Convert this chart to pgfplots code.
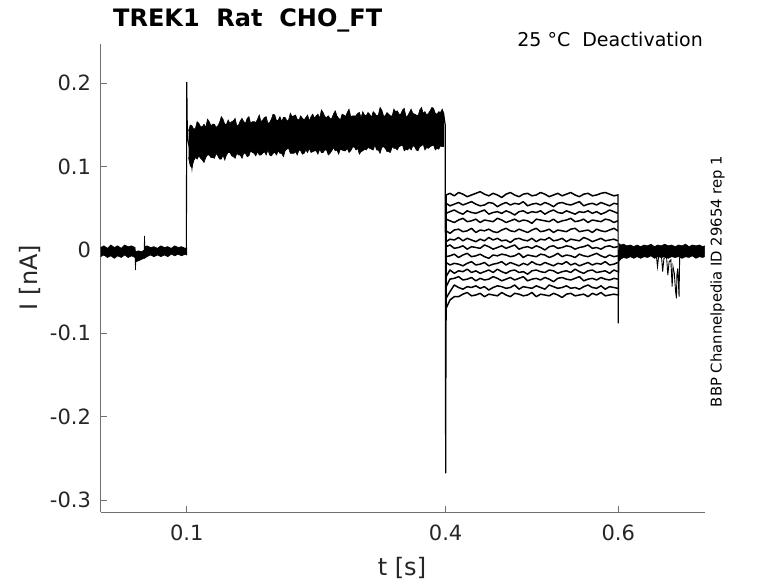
\documentclass[border=0pt]{standalone}
\usepackage{pgfplots}
\pgfplotsset{compat=1.18}
\usepackage{pgfplotstable}
\usepackage{fontspec}
\setmainfont{DejaVu Sans}
\definecolor{tk}{HTML}{262626}
\definecolor{ax}{HTML}{707070}
\newcommand\fs[1]{\fontsize{#1}{#1}\selectfont}

\pgfplotstableread{
t a1 a2 a3 a4 a5 a6 a7 a8 a9 a10 a11 a12 a13
0.4005 66 56 44 37 23 10 4 -8 -15 -32 -44 -58 -70
0.405 68 53 46 35 20 13 6 -7 -18 -24 -35 -50 -60
0.410 65 55 48 33 24 12 2 -5 -16 -28 -34 -42 -56
0.415 69 57 45 36 25 15 3 -9 -17 -25 -32 -45 -56
0.420 67 54 43 38 22 11 5 -6 -19 -26 -36 -47 -53
0.425 64 56 47 34 23 14 1 -4 -16 -23 -35 -44 -51
0.430 66 58 45 35 26 12 4 -8 -14 -27 -33 -45 -55
0.435 68 55 44 37 21 10 3 -7 -18 -25 -37 -43 -54
0.440 70 53 46 33 24 13 2 -5 -17 -28 -34 -46 -52
0.445 67 54 48 36 23 11 6 -8 -15 -26 -36 -44 -56
0.450 65 57 43 35 25 15 4 -10 -19 -24 -35 -48 -53
0.455 68 56 45 34 22 12 1 -6 -17 -27 -32 -45 -54
0.460 66 52 46 38 21 14 3 -7 -16 -23 -34 -43 -55
0.465 63 55 44 36 24 11 5 -5 -14 -26 -37 -44 -51
0.470 67 57 47 33 26 12 2 -6 -18 -28 -35 -46 -54
0.475 69 54 45 35 23 9 4 -8 -15 -25 -33 -45 -56
0.480 66 56 42 37 22 13 6 -7 -17 -24 -36 -42 -52
0.485 64 55 46 34 25 14 1 -4 -19 -27 -34 -47 -53
0.490 67 58 47 36 23 12 3 -9 -16 -26 -32 -44 -55
0.495 68 53 44 35 21 11 4 -6 -18 -29 -37 -45 -54
0.500 65 55 46 32 24 14 2 -7 -14 -25 -35 -46 -51
0.505 66 56 45 37 26 10 5 -8 -17 -24 -34 -43 -56
0.510 69 54 47 36 22 13 3 -5 -18 -26 -36 -45 -53
0.515 67 57 43 35 23 12 0 -6 -15 -27 -33 -47 -54
0.520 64 55 46 34 25 15 4 -9 -17 -24 -35 -42 -55
0.525 66 52 48 37 21 11 5 -7 -19 -25 -38 -44 -52
0.530 68 56 45 33 24 12 2 -4 -16 -28 -34 -46 -54
0.535 65 57 44 35 23 14 3 -8 -17 -26 -33 -45 -57
0.540 67 55 47 36 22 10 5 -6 -14 -25 -35 -43 -53
0.545 69 54 45 38 25 13 4 -7 -18 -27 -36 -46 -52
0.550 66 56 43 34 26 12 1 -9 -16 -23 -34 -45 -55
0.555 64 58 46 35 22 11 3 -5 -19 -26 -32 -47 -54
0.560 67 53 45 37 23 15 4 -7 -17 -28 -37 -44 -53
0.565 68 55 47 33 24 13 6 -8 -15 -25 -35 -42 -56
0.570 65 56 44 36 21 10 2 -6 -18 -24 -34 -45 -52
0.575 66 54 46 35 25 12 3 -4 -16 -27 -36 -46 -54
0.580 68 57 43 34 23 14 1 -7 -17 -26 -33 -43 -51
0.585 69 55 45 37 22 11 4 -9 -14 -25 -35 -47 -55
0.590 67 53 48 36 24 12 5 -6 -18 -28 -36 -44 -54
0.595 65 56 46 33 26 13 3 -8 -17 -24 -34 -45 -53
0.5995 66 55 44 35 23 11 4 -7 -15 -26 -35 -46 -54
}\steps

\begin{document}
\begin{tikzpicture}
\useasboundingbox (0pt,0pt) rectangle (778pt,583pt);
\begin{axis}[
  at={(100.5pt,71pt)}, anchor=south west,
  scale only axis, width=604pt, height=468pt,
  xmin=0, xmax=0.7, ymin=-314.4, ymax=247.2,
  axis x line=bottom, axis y line=left,
  axis line style={-, draw=ax, line width=0.8pt},
  tick align=inside, major tick length=6pt,
  tick style={draw=ax, line width=0.8pt},
  xtick={0.1,0.4,0.6}, xticklabels={0.1,0.4,0.6},
  ytick={-300,-200,-100,0,100,200},
  yticklabels={-0.3,-0.2,-0.1,0,0.1,0.2},
  xticklabel style={font=\fs{21}, text=tk, yshift=-9pt},
  yticklabel style={font=\fs{21}, text=tk, xshift=-6pt},
]
% baseline before 0.1 (band outline: upper edge forward, lower edge back)
\addplot[draw=black, fill=black, line width=0.6pt] coordinates {(0,3)(0.004,5)(0.008,2)(0.012,6)(0.016,3)(0.020,5)(0.024,2)(0.028,6)(0.032,4)(0.036,5)(0.0400,3)(0.0405,-2)(0.044,-1)(0.048,-2)(0.0505,0)(0.051,17)(0.0515,4)(0.054,5)(0.058,3)(0.062,4)(0.066,2)(0.070,5)(0.074,3)(0.078,4)(0.082,2)(0.086,5)(0.090,3)(0.094,4)(0.098,2)(0.1,3)
 (0.1,-6)(0.098,-5)(0.094,-7)(0.090,-5)(0.086,-7)(0.082,-5)(0.078,-8)(0.074,-6)(0.070,-8)(0.066,-6)(0.062,-8)(0.058,-6)(0.054,-8)(0.051,-10)(0.048,-11)(0.044,-13)(0.041,-14)(0.0405,-24)(0.0400,-9)(0.036,-7)(0.032,-9)(0.028,-6)(0.024,-9)(0.020,-7)(0.016,-10)(0.012,-7)(0.008,-9)(0.004,-6)(0,-8)};
% step at 0.1
\addplot[black, line width=1.1pt] coordinates {(0.0995,0)(0.1,201.5)(0.1004,160)(0.1008,135)(0.102,128)(0.104,118)(0.106,99)(0.108,120)};
% activated band 0.1-0.4 (upper edge forward, lower edge back)
\addplot[draw=black, fill=black, line width=0.6pt] coordinates {
(0.102,143)(0.104,150)(0.106,149)(0.108,145)(0.110,146)(0.112,154)(0.114,152)(0.116,148)(0.118,148)(0.120,151)(0.122,147)(0.124,157)(0.126,154)(0.128,149)(0.130,151)(0.132,151)(0.134,147)(0.136,149)(0.138,153)(0.140,160)(0.142,157)(0.144,151)(0.146,151)(0.148,156)(0.150,152)(0.152,154)(0.154,155)(0.156,158)(0.158,149)(0.160,150)(0.162,155)(0.164,158)(0.166,154)(0.168,152)(0.170,158)(0.172,160)(0.174,152)(0.176,154)(0.178,154)(0.180,153)(0.182,157)(0.184,162)(0.186,154)(0.188,156)(0.190,159)(0.192,160)(0.194,152)(0.196,153)(0.198,157)(0.200,163)(0.202,162)(0.204,155)(0.206,156)(0.208,160)(0.210,154)(0.212,159)(0.214,159)(0.216,155)(0.218,156)(0.220,164)(0.222,160)(0.224,161)(0.226,162)(0.228,157)(0.230,156)(0.232,161)(0.234,158)(0.236,156)(0.238,159)(0.240,162)(0.242,155)(0.244,160)(0.246,163)(0.248,158)(0.250,161)(0.252,163)(0.254,158)(0.256,168)(0.258,165)(0.260,160)(0.262,159)(0.264,161)(0.266,158)(0.268,158)(0.270,163)(0.272,167)(0.274,161)(0.276,158)(0.278,156)(0.280,163)(0.282,162)(0.284,160)(0.286,165)(0.288,169)(0.290,160)(0.292,161)(0.294,161)(0.296,161)(0.298,164)(0.300,165)(0.302,159)(0.304,166)(0.306,162)(0.308,161)(0.310,165)(0.312,163)(0.314,159)(0.316,166)(0.318,164)(0.320,161)(0.322,162)(0.324,171)(0.326,168)(0.328,161)(0.330,161)(0.332,165)(0.334,163)(0.336,161)(0.338,161)(0.340,169)(0.342,166)(0.344,167)(0.346,163)(0.348,163)(0.350,168)(0.352,170)(0.354,160)(0.356,161)(0.358,165)(0.360,169)(0.362,164)(0.364,163)(0.366,162)(0.368,161)(0.370,168)(0.372,171)(0.374,164)(0.376,166)(0.378,162)(0.380,164)(0.382,167)(0.384,171)(0.386,170)(0.388,164)(0.390,163)(0.392,166)(0.394,165)(0.396,169)(0.398,164)
(0.398,124)(0.396,124)(0.394,125)(0.392,121)(0.390,122)(0.388,120)(0.386,126)(0.384,125)(0.382,124)(0.380,122)(0.378,123)(0.376,120)(0.374,127)(0.372,125)(0.370,124)(0.368,119)(0.366,120)(0.364,124)(0.362,125)(0.360,120)(0.358,123)(0.356,120)(0.354,121)(0.352,119)(0.350,126)(0.348,125)(0.346,124)(0.344,120)(0.342,122)(0.340,122)(0.338,124)(0.336,117)(0.334,118)(0.332,118)(0.330,122)(0.328,124)(0.326,123)(0.324,116)(0.322,120)(0.320,120)(0.318,126)(0.316,120)(0.314,121)(0.312,122)(0.310,123)(0.308,120)(0.306,121)(0.304,119)(0.302,118)(0.300,115)(0.298,122)(0.296,120)(0.294,124)(0.292,123)(0.290,119)(0.288,117)(0.286,122)(0.284,119)(0.282,119)(0.280,120)(0.278,121)(0.276,115)(0.274,120)(0.272,119)(0.270,123)(0.268,119)(0.266,116)(0.264,114)(0.262,120)(0.260,120)(0.258,117)(0.256,117)(0.254,121)(0.252,115)(0.250,119)(0.248,119)(0.246,118)(0.244,117)(0.242,122)(0.240,117)(0.238,120)(0.236,116)(0.234,115)(0.232,119)(0.230,120)(0.228,114)(0.226,118)(0.224,116)(0.222,116)(0.220,116)(0.218,122)(0.216,121)(0.214,119)(0.212,112)(0.210,116)(0.208,116)(0.206,119)(0.204,114)(0.202,117)(0.200,116)(0.198,113)(0.196,114)(0.194,120)(0.192,114)(0.190,118)(0.188,116)(0.186,114)(0.184,114)(0.182,118)(0.180,113)(0.178,116)(0.176,117)(0.174,119)(0.172,113)(0.170,112)(0.168,116)(0.166,116)(0.164,110)(0.162,114)(0.160,114)(0.158,116)(0.156,110)(0.154,112)(0.152,113)(0.150,117)(0.148,117)(0.146,114)(0.144,108)(0.142,114)(0.140,109)(0.138,109)(0.136,113)(0.134,116)(0.132,110)(0.130,111)(0.128,111)(0.126,114)(0.124,114)(0.122,111)(0.120,105)(0.118,108)(0.116,110)(0.114,113)(0.112,109)(0.110,111)(0.108,107)(0.106,99)(0.104,101)(0.102,111)};
% drop at 0.4
\addplot[black, line width=1.2pt] coordinates {(0.3975,164)(0.3995,150)(0.4,-268)(0.4003,-150)(0.4006,-80)(0.4008,-60)};
\addplot[black, line width=2pt] coordinates {(0.4004,67)(0.4004,-70)};
% deactivation steps
\pgfplotsinvokeforeach{1,...,13}{
  \addplot[black, line width=1.5pt, line join=round] table[x=t, y=a#1] {\steps};
}
% return at 0.6
\addplot[black, line width=1.2pt] coordinates {(0.5998,67)(0.6,-88)(0.6003,-40)(0.6007,-14)(0.601,0)};
\addplot[draw=black, fill=black, line width=0.6pt] coordinates {(0.6005,8)(0.603,6)(0.606,7)(0.61,5)(0.614,6)(0.618,4)(0.622,6)(0.626,4)(0.630,6)(0.634,5)(0.638,7)(0.642,4)(0.646,6)(0.650,5)(0.654,7)(0.658,5)(0.662,6)(0.666,4)(0.670,6)(0.674,5)(0.678,7)(0.682,4)(0.686,6)(0.690,5)(0.694,6)(0.698,4)(0.700,5)
(0.700,-8)(0.698,-9)(0.694,-8)(0.690,-10)(0.686,-7)(0.682,-9)(0.678,-8)(0.674,-10)(0.670,-8)(0.666,-9)(0.662,-8)(0.658,-10)(0.654,-8)(0.650,-9)(0.646,-8)(0.642,-10)(0.638,-7)(0.634,-9)(0.630,-8)(0.626,-10)(0.622,-8)(0.618,-10)(0.614,-8)(0.61,-10)(0.606,-9)(0.603,-11)(0.6005,-14)};
\addplot[black, line width=0.9pt] coordinates {(0.644,-4)(0.6455,-20)(0.647,-6)(0.650,-5)(0.6515,-26)(0.653,-10)(0.656,-8)(0.6575,-30)(0.659,-14)(0.661,-12)(0.6625,-44)(0.6635,-20)(0.665,-28)(0.6665,-50)(0.6675,-58)(0.668,-30)(0.669,-22)(0.6705,-56)(0.6712,-10)(0.672,-4)};
\end{axis}
\node[anchor=base west, inner sep=0pt, font=\bfseries\fs{24}, text=black] at (113pt,556pt) {TREK1\ \ Rat\ \ CHO\_FT};
\node[anchor=base east, inner sep=0pt, font=\fs{19}, text=black] at (703pt,536pt) {25 °C\ \ Deactivation};
\node[rotate=90, anchor=base, inner sep=0pt, font=\fs{14.8}, text=black] at (721.5pt,301.5pt) {BBP Channelpedia ID 29654 rep 1};
\node[anchor=base, inner sep=0pt, font=\fs{24}, text=tk] at (402pt,8pt) {t [s]};
\node[rotate=90, anchor=base, inner sep=0pt, font=\fs{24}, text=tk] at (37pt,305.5pt) {I [nA]};
\end{tikzpicture}
\end{document}
